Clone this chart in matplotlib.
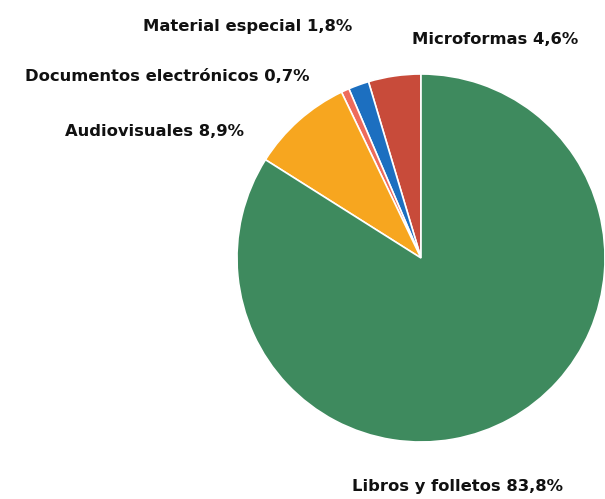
import matplotlib
matplotlib.use("Agg")
import matplotlib.pyplot as plt

# datos (en sentido antihorario desde arriba)
categorias = ["Microformas", "Material especial", "Documentos electrónicos",
              "Audiovisuales", "Libros y folletos"]
porcentajes = [4.6, 1.8, 0.7, 8.9, 83.8]
etiquetas = ["Microformas 4,6%", "Material especial 1,8%",
             "Documentos electrónicos 0,7%", "Audiovisuales 8,9%",
             "Libros y folletos 83,8%"]
colores = ["#c84b3a", "#1c6fc0", "#ee6b5b", "#f7a61f", "#3e8a5e"]

# posicion de cada etiqueta (px, desde arriba)
pos_etiquetas = [(412, 39), (143, 26), (25, 76), (65, 131), (352, 487)]

fig = plt.figure(figsize=(6.05, 4.99), dpi=100)
ax = fig.add_axes([0, 0, 1, 1])

ax.pie(porcentajes, colors=colores, startangle=90, counterclock=True,
       center=(421, 499 - 258), radius=184, frame=True,
       wedgeprops=dict(edgecolor="white", linewidth=1.2))
ax.set_xlim(0, 605)
ax.set_ylim(0, 499)
ax.axis("off")

for txt, (x, y) in zip(etiquetas, pos_etiquetas):
    ax.text(x, 499 - y, txt, ha="left", va="center", fontsize=11.8,
            fontweight="bold", family="DejaVu Sans", color="#111111")

fig.savefig("out.png", dpi=100)
